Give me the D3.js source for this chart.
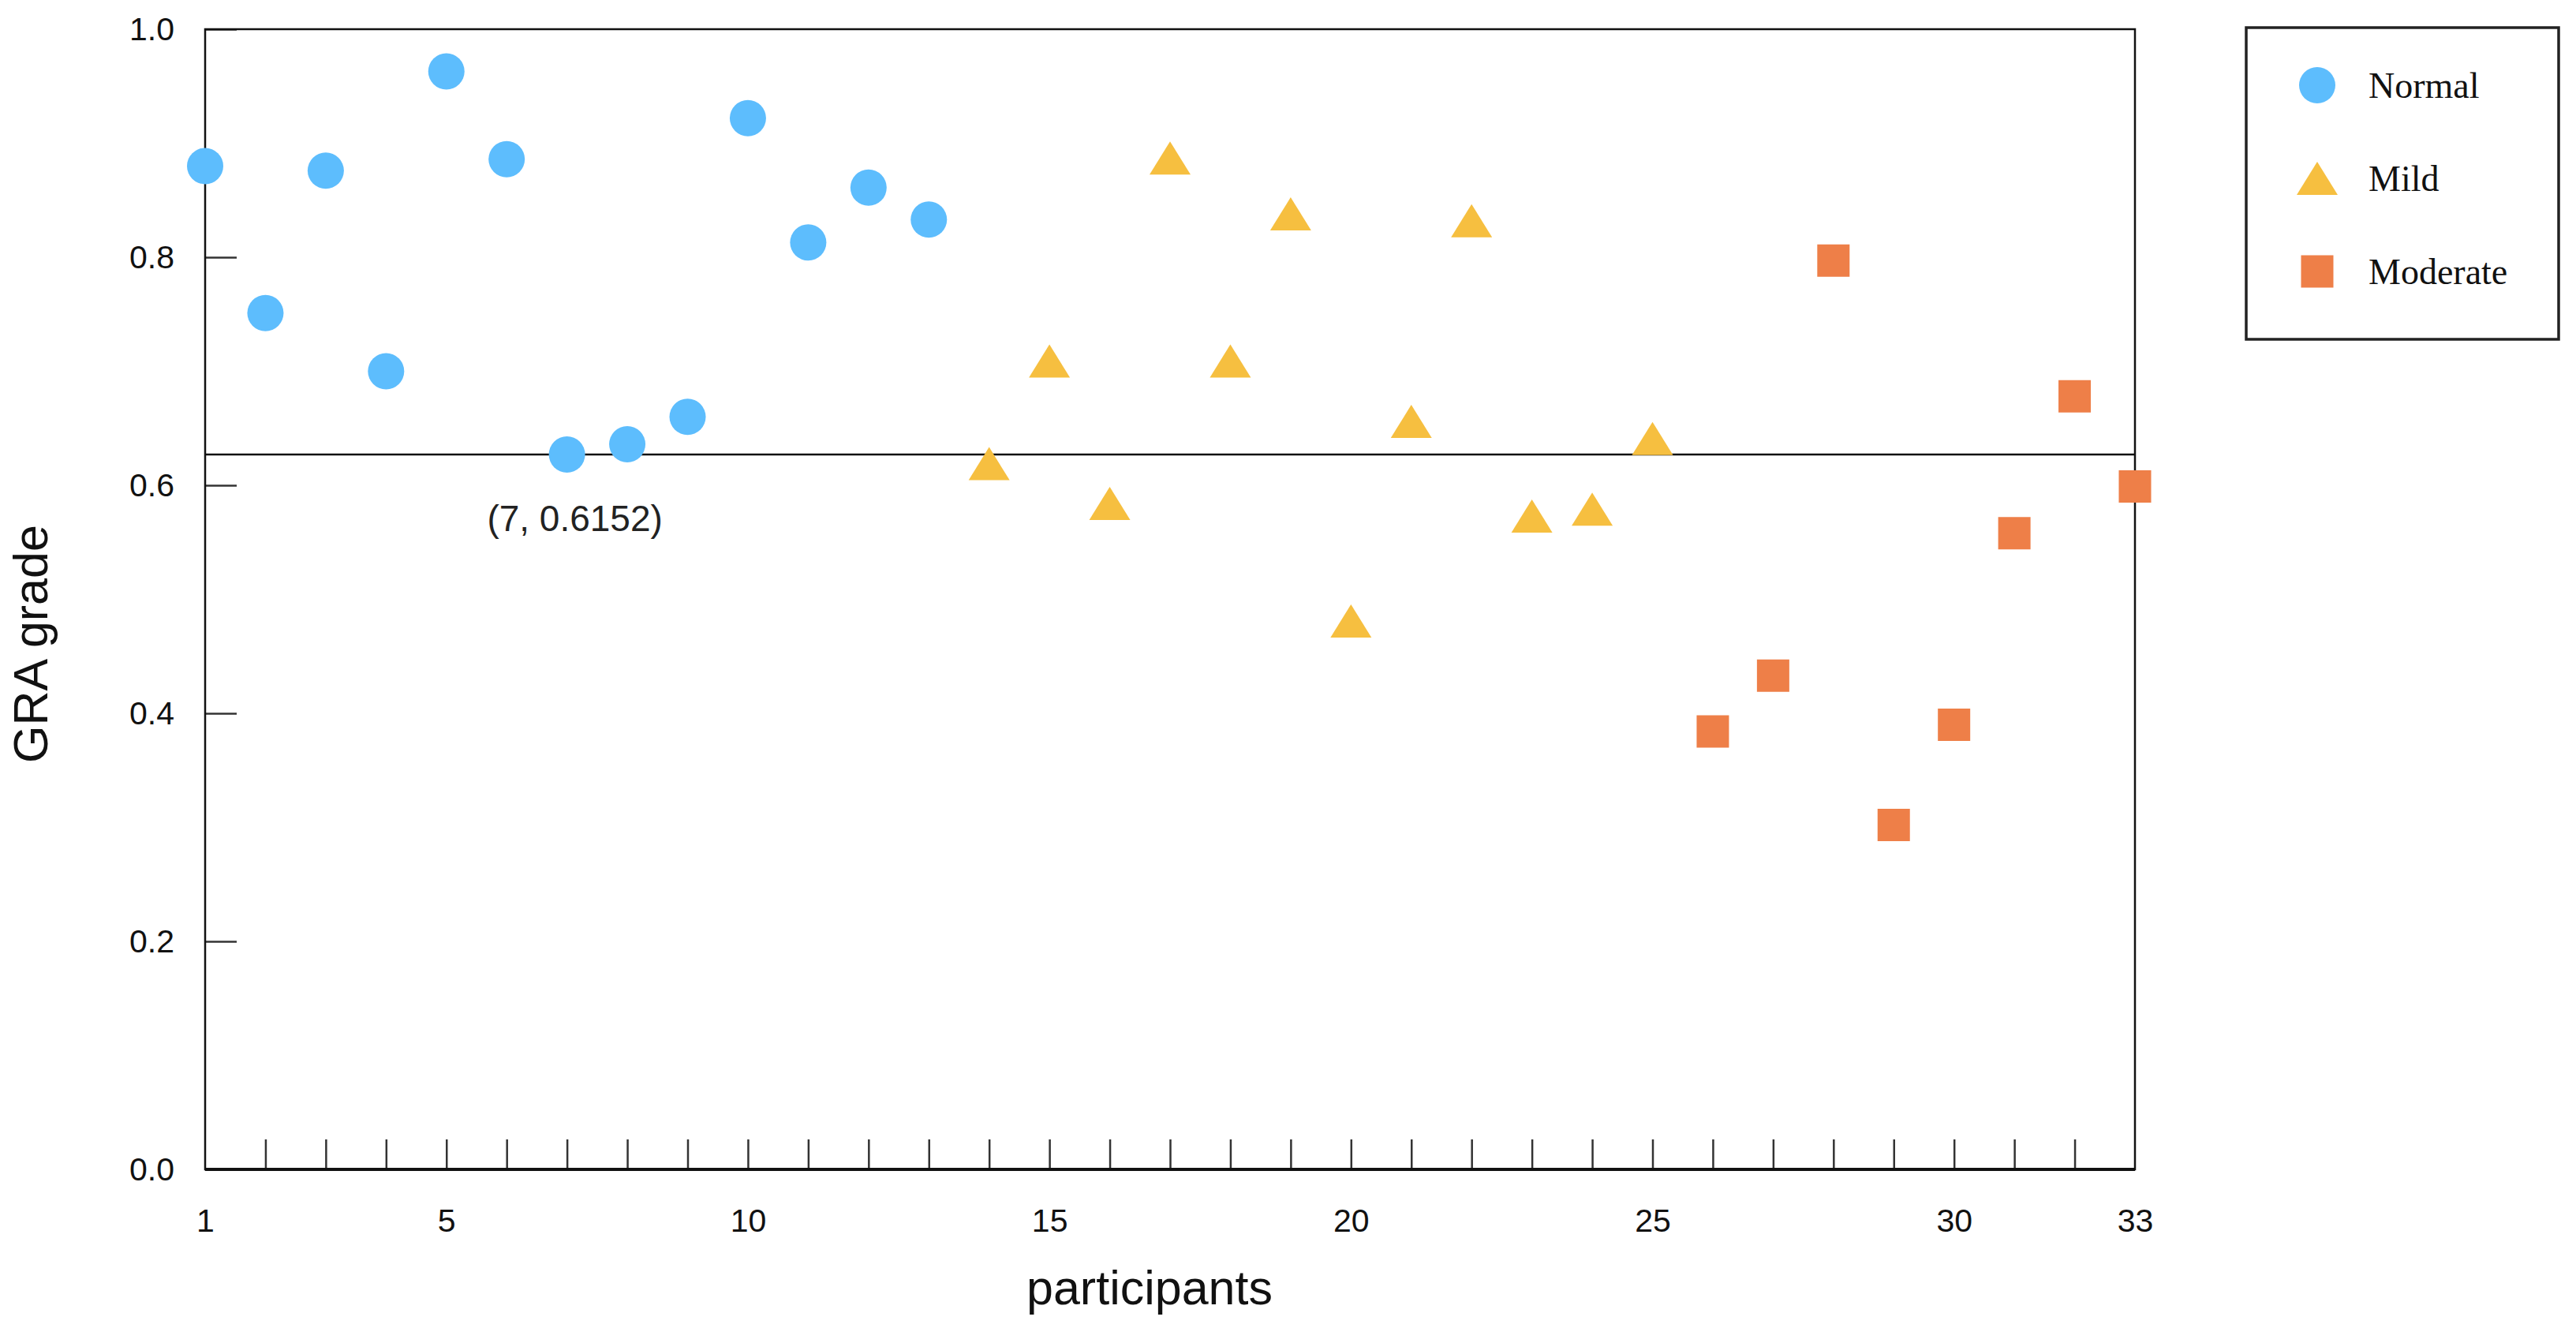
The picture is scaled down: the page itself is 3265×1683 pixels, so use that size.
<!DOCTYPE html>
<html>
<head>
<meta charset="utf-8">
<script src="https://cdn.jsdelivr.net/npm/d3@7"></script>
<style>
  body { margin: 0; background: #fff; }
  svg { display: block; }
</style>
</head>
<body>
<svg></svg>
<script>

// participants per group
var normalIds = [1,2,3,4,5,6,7,8,9,10,11,12,13]
var mildIds = [14,15,16,17,18,19,20,21,22,23,24,25]
var moderateIds = [26,27,28,29,30,31,32,33]

// GRA grade per participant
var normalVals = [0.880,0.751,0.876,0.700,0.963,0.886,0.627,0.636,0.660,0.922,0.813,0.861,0.833]
var mildVals = [0.619,0.709,0.584,0.887,0.709,0.838,0.481,0.656,0.832,0.573,0.579,0.641]
var moderateVals = [0.384,0.433,0.797,0.302,0.390,0.558,0.678,0.599]

var groupNames = ["Normal","Mild","Moderate"]
var groupColors = ["#5dbdfd","#f6bf40","#ee7f48"]

var xTickLabels = [1,5,10,15,20,25,30,33]
var yTickLabels = [0,0.2,0.4,0.6,0.8,1.0]

// the lowest "Normal" value, drawn as a cut-off line
var cutoffId = 7
var cutoffLabel = "(7, 0.6152)"

var width = 3265
var height = 1683
var margins = {top: 37, bottom: 201, left: 260, right: 559}

var svg = d3.select("svg")
  .attr("width", width)
  .attr("height", height)

var xScale = d3.scaleLinear()
  .domain([1,33])
  .range([margins.left, width-margins.right])

var yScale = d3.scaleLinear()
  .domain([0,1])
  .range([height-margins.bottom, margins.top])

var sans = "'Liberation Sans', Arial, sans-serif"
var serif = "'Liberation Serif', 'Times New Roman', serif"

// inner ticks on the bottom
var xTicks = d3.axisBottom(xScale)
  .tickValues(d3.range(2,33))
  .tickSize(-38)
  .tickFormat("")

var xLabels = d3.axisBottom(xScale)
  .tickValues(xTickLabels)
  .tickSize(0)
  .tickPadding(50)
  .tickFormat(d3.format("d"))

var yAxis = d3.axisLeft(yScale)
  .tickValues(yTickLabels)
  .tickSize(-40)
  .tickPadding(39)
  .tickFormat(d3.format(".1f"))

var styleAxis = function(g)
{
  g.select(".domain").remove()
  g.selectAll(".tick line").attr("stroke","#333").attr("stroke-width",2.5)
  g.selectAll(".tick text")
    .attr("fill","#111")
    .style("font-family", sans)
    .style("font-size","41px")
}

svg.append("g")
  .attr("transform","translate(0,"+(height-margins.bottom)+")")
  .call(xTicks)
  .call(styleAxis)

svg.append("g")
  .attr("transform","translate(0,"+(height-margins.bottom)+")")
  .call(xLabels)
  .call(styleAxis)

svg.append("g")
  .attr("transform","translate("+margins.left+",0)")
  .call(yAxis)
  .call(styleAxis)

// frame
svg.append("rect")
  .attr("x", xScale(1))
  .attr("y", yScale(1))
  .attr("width", xScale(33)-xScale(1))
  .attr("height", yScale(0)-yScale(1))
  .attr("fill","none")
  .attr("stroke","#111")
  .attr("stroke-width",2.5)

svg.append("line")
  .attr("x1", xScale(1))
  .attr("x2", xScale(33))
  .attr("y1", yScale(0))
  .attr("y2", yScale(0))
  .attr("stroke","#111")
  .attr("stroke-width",4)

// cut-off line
var cutoff = normalVals[normalIds.indexOf(cutoffId)]

svg.append("line")
  .attr("x1", xScale(1))
  .attr("x2", xScale(33))
  .attr("y1", yScale(cutoff))
  .attr("y2", yScale(cutoff))
  .attr("stroke","#111")
  .attr("stroke-width",2.5)

svg.append("text")
  .attr("x", xScale(cutoffId)+10)
  .attr("y", yScale(cutoff)+97)
  .attr("text-anchor","middle")
  .attr("fill","#222")
  .style("font-family", sans)
  .style("font-size","46px")
  .text(cutoffLabel)

// marker shapes
var triangle = d3.line()([[0,-21],[26,21],[-26,21]]) + "Z"
var square = d3.symbol().type(d3.symbolSquare).size(41*41)()

var zip = function(ids, vals)
{
  return ids.map(function(id,i){ return {id: id, v: vals[i]} })
}

svg.append("g")
  .selectAll("circle")
  .data(zip(normalIds, normalVals))
  .enter()
  .append("circle")
  .attr("cx", function(d){ return xScale(d.id) })
  .attr("cy", function(d){ return yScale(d.v) })
  .attr("r", 23)
  .attr("fill", groupColors[0])

svg.append("g")
  .selectAll("path")
  .data(zip(mildIds, mildVals))
  .enter()
  .append("path")
  .attr("d", triangle)
  .attr("transform", function(d){ return "translate("+xScale(d.id)+","+yScale(d.v)+")" })
  .attr("fill", groupColors[1])

svg.append("g")
  .selectAll("path")
  .data(zip(moderateIds, moderateVals))
  .enter()
  .append("path")
  .attr("d", square)
  .attr("transform", function(d){ return "translate("+xScale(d.id)+","+yScale(d.v)+")" })
  .attr("fill", groupColors[2])

// axis titles
svg.append("text")
  .attr("x", 1457)
  .attr("y", 1653)
  .attr("text-anchor","middle")
  .attr("fill","#111")
  .style("font-family", sans)
  .style("font-size","61px")
  .text("participants")

svg.append("text")
  .attr("transform","translate(60,816) rotate(-90)")
  .attr("text-anchor","middle")
  .attr("fill","#111")
  .style("font-family", sans)
  .style("font-size","61px")
  .text("GRA grade")

// legend
var legend = svg.append("g")
  .attr("transform","translate(2847,35)")

legend.append("rect")
  .attr("width", 396)
  .attr("height", 395)
  .attr("fill","none")
  .attr("stroke","#222")
  .attr("stroke-width",3.5)

var shapes = ["circle", triangle, square]

var rows = legend.selectAll(".row")
  .data(groupNames)
  .enter()
  .append("g")
  .attr("class","row")
  .attr("transform", function(d,i){ return "translate(90,"+(73+i*118)+")" })

rows.append("path")
  .attr("d", function(d,i){ return i==0 ? d3.symbol().type(d3.symbolCircle).size(Math.PI*23*23)() : shapes[i] })
  .attr("fill", function(d,i){ return groupColors[i] })

rows.append("text")
  .attr("x", 65)
  .attr("y", 16)
  .attr("fill","#111")
  .style("font-family", serif)
  .style("font-size","46px")
  .text(function(d){ return d })

</script>
</body>
</html>
